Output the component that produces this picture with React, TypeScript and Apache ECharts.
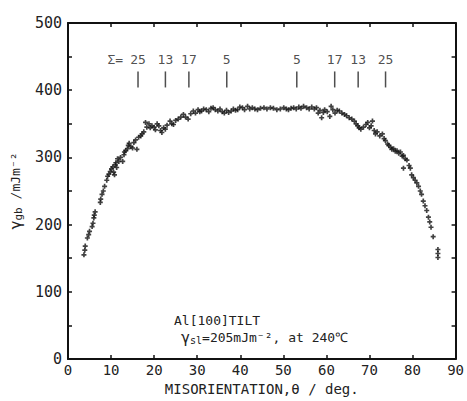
import React, { useEffect, useRef } from "react";
import * as echarts from "echarts";

// Measured grain-boundary energy (misorientation deg, gamma mJ/m^2)
const thetaDeg: number[] = [
  3.7, 3.9, 4.0, 4.5, 4.8, 5.0, 5.6, 5.8, 6.0, 6.1, 6.3, 7.5, 7.6, 7.9, 8.2, 8.5, 9.0, 9.2, 9.5, 9.8,
  10.1, 10.4, 10.6, 10.8, 11.0, 11.1, 11.3, 11.5, 11.8, 12.2, 12.7, 13.0, 13.1, 13.4, 13.8, 14.0, 14.2, 14.6, 15.0, 15.3,
  15.7, 16.0, 16.4, 16.9, 17.2, 17.6, 18.0, 18.3, 18.8, 19.1, 19.5, 20.0, 20.3, 20.7, 21.1, 21.5, 21.8, 22.2, 22.6, 23.0,
  23.7, 24.1, 24.5, 25.0, 25.6, 26.2, 26.8, 27.3, 27.9, 28.5, 29.1, 29.6, 30.2, 30.6, 31.0, 31.5, 32.1, 32.7, 33.2, 33.7,
  34.2, 34.8, 35.3, 35.8, 36.3, 36.8, 37.3, 37.9, 38.4, 38.9, 39.4, 39.9, 40.5, 41.0, 41.7, 42.2, 42.8, 43.4, 44.0, 44.7,
  45.5, 46.2, 47.0, 47.7, 48.5, 49.3, 50.1, 50.7, 51.2, 51.8, 52.4, 53.0, 53.6, 54.1, 54.7, 55.4, 56.0, 56.6, 57.2, 57.7,
  58.1, 58.5, 58.9, 59.3, 59.6, 60.2, 60.8, 61.1, 61.5, 62.0, 62.5, 63.0, 63.6, 64.2, 64.7, 65.3, 65.9, 66.5, 66.9, 67.3,
  67.6, 68.0, 68.6, 69.2, 69.6, 70.0, 70.4, 70.7, 71.1, 71.4, 71.8, 72.4, 73.0, 73.4, 73.7, 74.2, 74.5, 74.9, 75.2, 75.6,
  76.0, 76.4, 76.8, 77.2, 77.6, 77.9, 78.3, 78.7, 77.9, 79.2, 79.5, 79.8, 80.2, 80.6, 81.0, 81.4, 81.8, 82.1, 82.5, 82.9,
  83.3, 83.7, 84.0, 84.3, 84.8, 85.9, 85.9, 85.9,
];
const gammaGb: number[] = [
  155, 162, 168, 180, 185, 190, 197, 202, 210, 214, 219, 233, 238, 245, 250, 257, 266, 272, 275, 279,
  283, 286, 278, 274, 289, 292, 285, 298, 294, 300, 294, 304, 308, 310, 313, 318, 321, 316, 314, 322,
  326, 312, 330, 332, 335, 338, 352, 345, 350, 344, 347, 345, 341, 350, 347, 340, 337, 344, 342, 348,
  354, 350, 349, 355, 357, 360, 364, 360, 357, 365, 369, 366, 371, 368, 369, 372, 371, 368, 373, 374,
  371, 369, 372, 368, 366, 370, 367, 369, 372, 370, 371, 375, 374, 371, 376, 372, 374, 372, 371, 373,
  374, 372, 374, 373, 371, 372, 374, 372, 371, 373, 374, 372, 375, 373, 376, 374, 372, 375, 372, 374,
  366, 370, 359, 367, 371, 368, 361, 376, 371, 366, 370, 369, 366, 364, 362, 359, 357, 354, 350, 347,
  344, 342, 345, 349, 352, 344, 347, 354, 340, 335, 338, 332, 335, 328, 325, 320, 318, 315, 312, 313,
  309, 310, 306, 308, 302, 303, 298, 296, 284, 288, 284, 274, 270, 266, 262, 257, 250, 245, 235, 228,
  221, 211, 204, 196, 182, 163, 157, 151,
];

// Coincidence-site-lattice markers
const sigmaAngles: number[] = [16.26, 22.62, 28.07, 36.87, 53.13, 61.93, 67.38, 73.74];
const sigmaLabels: string[] = ["25", "13", "17", "5", "5", "17", "13", "25"];
const sigmaMarkY = 416;
const sigmaPrefixX = 11.0;

const xTicks: number[] = [0, 10, 20, 30, 40, 50, 60, 70, 80, 90];
const yTicks: number[] = [0, 100, 200, 300, 400, 500];

const FONT = "'DejaVu Sans Mono', monospace";

export default function App() {
  const ref = useRef<HTMLDivElement>(null);
  useEffect(() => {
    if (!ref.current) return;
    const chart = echarts.init(ref.current, undefined, { renderer: "svg" });
    const points = thetaDeg.map((t, i) => [t, gammaGb[i]]);
    const sigmaData = sigmaAngles.map((a, i) => ({
      value: [a, sigmaMarkY],
      label: { formatter: sigmaLabels[i] },
    }));
    const tickCommon = {
      axisLine: { show: true, onZero: false, lineStyle: { color: "#111", width: 2 } },
      axisTick: { show: true, inside: true, length: 4, lineStyle: { color: "#111", width: 1.5 } },
      splitLine: { show: false },
    };
    chart.setOption({
      animation: false,
      backgroundColor: "#fff",
      grid: { left: 68, right: 6, top: 23, bottom: 34, show: false },
      xAxis: [
        {
          type: "value",
          min: 0,
          max: 90,
          interval: 10,
          position: "bottom",
          ...tickCommon,
          axisLabel: {
            color: "#222",
            fontFamily: FONT,
            fontSize: 14,
            margin: 4,
            formatter: (v: number) => (xTicks.includes(v) ? String(v) : ""),
          },
          name: "MISORIENTATION,θ / deg.",
          nameLocation: "middle",
          nameGap: 23,
          nameTextStyle: { color: "#222", fontFamily: FONT, fontSize: 14 },
        },
        {
          type: "value",
          min: 0,
          max: 90,
          interval: 10,
          position: "top",
          ...tickCommon,
          axisLabel: { show: false },
        },
      ],
      yAxis: [
        {
          type: "value",
          min: 0,
          max: 500,
          interval: 50,
          position: "left",
          ...tickCommon,
          axisLabel: {
            color: "#222",
            fontFamily: FONT,
            fontSize: 15,
            margin: 6,
            formatter: (v: number) => (yTicks.includes(v) ? String(v) : ""),
          },
          name: "{g|γ}{s|gb} /mJm⁻²",
          nameLocation: "middle",
          nameRotate: 90,
          nameGap: 43,
          nameTextStyle: {
            color: "#222",
            fontFamily: FONT,
            fontSize: 13,
            rich: {
              g: { fontFamily: FONT, fontSize: 15, color: "#222" },
              s: { fontFamily: FONT, fontSize: 11, color: "#222", padding: [6, 0, 0, 0] },
            },
          },
        },
        {
          type: "value",
          min: 0,
          max: 500,
          interval: 50,
          position: "right",
          ...tickCommon,
          axisLabel: { show: false },
        },
      ],
      series: [
        {
          type: "scatter",
          data: points,
          symbol: "path://M-1,-3h2v2h2v2h-2v2h-2v-2h-2v-2h2z",
          symbolSize: [5, 5],
          itemStyle: { color: "#111" },
        },
        {
          type: "scatter",
          data: sigmaData,
          symbol: "rect",
          symbolSize: [1.5, 16],
          itemStyle: { color: "#222" },
          label: {
            show: true,
            position: "top",
            distance: 5,
            color: "#222",
            fontFamily: FONT,
            fontSize: 13,
          },
        },
        {
          type: "scatter",
          data: [[sigmaPrefixX, sigmaMarkY]],
          symbol: "rect",
          symbolSize: [1, 16],
          itemStyle: { color: "rgba(0,0,0,0)" },
          label: {
            show: true,
            position: "top",
            distance: 5,
            formatter: "Σ=",
            color: "#222",
            fontFamily: FONT,
            fontSize: 13,
          },
        },
      ],
      graphic: [
        {
          type: "text",
          left: 174,
          top: 314,
          style: { text: "Al[100]TILT", fill: "#222", font: `13px ${FONT}` },
        },
        {
          type: "text",
          left: 181,
          top: 330,
          style: {
            text: "{g|γ}{s|sl}=205mJm⁻², at 240℃",
            fill: "#222",
            font: `13px ${FONT}`,
            rich: {
              g: { font: `15px ${FONT}`, fill: "#222" },
              s: { font: `10px ${FONT}`, fill: "#222", padding: [6, 0, 0, 0] },
            },
          },
        },
      ],
    });
    return () => chart.dispose();
  }, []);
  return (
    <div
      ref={ref}
      style={{ position: "absolute", left: 0, top: 0, width: 467, height: 401 }}
    />
  );
}
